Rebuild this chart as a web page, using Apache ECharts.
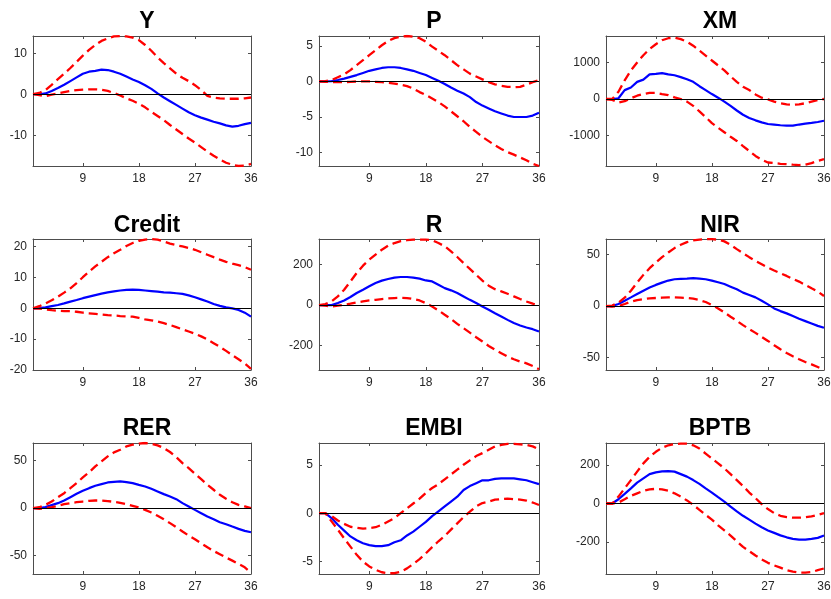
<!DOCTYPE html>
<html>

<head>
  <meta charset="UTF-8">
  <title>IRF</title>
  <script src="https://cdn.jsdelivr.net/npm/echarts@6/dist/echarts.min.js"></script>
  <style>
    body {
      margin: 0;
      background: #fff;
    }

    #chart {
      width: 831px;
      height: 599px;
    }
  </style>
</head>

<body>
  <div id="chart"></div>
  <script>
    // horizon and tick labels
    const periods = [1, 2, 3, 4, 5, 6, 7, 8, 9, 10, 11, 12, 13, 14, 15, 16, 17, 18, 19, 20, 21, 22, 23, 24, 25, 26, 27, 28, 29, 30, 31, 32, 33, 34, 35, 36];
    const xTicks = [9, 18, 27, 36];
    const panelNames = ['Y', 'P', 'XM', 'Credit', 'R', 'NIR', 'RER', 'EMBI', 'BPTB'];
    const yTicks = [
      [-10, 0, 10],
      [-10, -5, 0, 5],
      [-1000, 0, 1000],
      [-20, -10, 0, 10, 20],
      [-200, 0, 200],
      [-50, 0, 50],
      [-50, 0, 50],
      [-5, 0, 5],
      [-200, 0, 200]
    ];
    const yLimits = [
      [-17.5, 14.2], [-11.9, 6.4], [-1836, 1726],
      [-20, 22.5], [-321, 327], [-62, 65],
      [-69.4, 68.7], [-6.28, 7.25], [-367, 315]
    ];

    // Y
    const yMean = [0, 0, 0.2, 0.8, 1.5, 2.3, 3.2, 4.1, 5.0, 5.5, 5.7, 6.0, 5.9, 5.5, 5.0, 4.3, 3.6, 3.0, 2.2, 1.3, 0.2, -0.8, -1.7, -2.6, -3.5, -4.4, -5.1, -5.7, -6.2, -6.7, -7.1, -7.6, -7.9, -7.7, -7.3, -7.0];
    const yUp = [0, 0.3, 1.0, 2.3, 3.7, 5.0, 6.4, 7.9, 9.4, 10.8, 12.0, 13.0, 13.6, 14.1, 14.2, 14.1, 13.8, 13.2, 12.0, 10.6, 9.0, 7.6, 6.3, 5.0, 4.0, 3.2, 2.2, 1.0, -0.4, -0.8, -1.0, -1.1, -1.1, -1.1, -1.0, -0.8];
    const yLow = [0, -0.2, -0.5, -0.1, 0.2, 0.5, 0.8, 1.0, 1.1, 1.2, 1.2, 1.1, 0.8, 0.3, -0.3, -1.0, -1.6, -2.3, -3.2, -4.3, -5.3, -6.3, -7.5, -8.6, -9.7, -10.8, -11.8, -12.9, -14.0, -15.0, -15.9, -16.7, -17.2, -17.5, -17.4, -17.0];
    // P
    const pMean = [0, 0, 0.05, 0.2, 0.4, 0.65, 0.9, 1.2, 1.5, 1.7, 1.9, 2.0, 2.0, 1.9, 1.7, 1.5, 1.2, 0.9, 0.5, 0.1, -0.35, -0.85, -1.3, -1.7, -2.2, -2.9, -3.4, -3.8, -4.2, -4.5, -4.8, -5.0, -5.0, -5.0, -4.8, -4.4];
    const pUp = [0, 0.05, 0.2, 0.6, 1.0, 1.6, 2.3, 3.0, 3.7, 4.4, 5.1, 5.7, 6.1, 6.3, 6.4, 6.3, 6.1, 5.6, 4.9, 4.3, 3.7, 3.0, 2.3, 1.7, 1.1, 0.7, 0.3, -0.1, -0.4, -0.6, -0.75, -0.8, -0.75, -0.45, -0.1, 0.2];
    const pLow = [0, -0.05, -0.1, -0.1, -0.1, -0.05, 0, 0, 0, -0.05, -0.1, -0.2, -0.3, -0.45, -0.65, -1.0, -1.5, -1.9, -2.4, -2.9, -3.5, -4.2, -4.9, -5.6, -6.4, -7.1, -7.8, -8.4, -9.0, -9.5, -9.95, -10.3, -10.7, -11.1, -11.6, -11.9];
    // XM
    const xmMean = [0, 0, 20, 243, 315, 470, 530, 675, 690, 710, 675, 650, 600, 540, 470, 350, 243, 135, 36, -72, -190, -315, -432, -520, -585, -640, -685, -700, -720, -730, -730, -700, -675, -655, -630, -595];
    const xmUp = [0, 0, 200, 510, 785, 1000, 1200, 1370, 1500, 1610, 1665, 1680, 1640, 1570, 1460, 1325, 1190, 1055, 920, 785, 620, 470, 335, 245, 125, 36, -10, -72, -117, -145, -160, -145, -117, -72, -27, 0];
    const xmLow = [0, -27, -100, -60, 20, 90, 135, 170, 170, 135, 108, 45, 0, -72, -190, -340, -495, -660, -790, -910, -1035, -1150, -1290, -1425, -1560, -1665, -1740, -1755, -1775, -1785, -1800, -1810, -1800, -1755, -1695, -1650];
    // Credit
    const creditMean = [0, 0.1, 0.3, 0.7, 1.1, 1.6, 2.2, 2.7, 3.3, 3.8, 4.3, 4.8, 5.2, 5.5, 5.8, 6.0, 6.1, 6.0, 5.8, 5.6, 5.4, 5.2, 5.1, 4.9, 4.7, 4.2, 3.6, 2.9, 2.2, 1.4, 0.8, 0.3, 0, -0.5, -1.4, -2.7];
    const creditUp = [0, 0.7, 1.6, 2.6, 3.8, 5.1, 6.5, 8.2, 10.1, 11.9, 13.6, 15.1, 16.6, 17.9, 19.0, 20.2, 21.2, 21.9, 22.3, 22.5, 22.3, 21.7, 21.0, 20.5, 20.1, 19.6, 19.0, 18.2, 17.4, 16.6, 15.8, 15.1, 14.5, 14.0, 13.4, 12.5];
    const creditLow = [0, -0.1, -0.3, -0.6, -0.8, -0.9, -0.9, -1.1, -1.4, -1.6, -1.8, -2.0, -2.2, -2.3, -2.5, -2.6, -2.7, -3.1, -3.6, -3.9, -4.3, -4.8, -5.4, -6.1, -6.8, -7.5, -8.2, -9.1, -10.1, -11.3, -12.5, -13.8, -15.2, -16.5, -17.9, -19.6];
    // R
    const rMean = [0, 0, 0, 10, 23, 40, 60, 76, 93, 109, 121, 129, 136, 139, 139, 136, 131, 122, 117, 101, 84, 73, 60, 43, 26, 10, -7, -23, -40, -56, -73, -89, -101, -111, -119, -131];
    const rUp = [0, 5, 18, 43, 76, 117, 159, 195, 225, 250, 274, 294, 307, 316, 321, 324, 324, 324, 321, 307, 291, 266, 238, 208, 179, 150, 121, 96, 79, 68, 56, 43, 30, 18, 7, -3];
    const rLow = [0, -3, -7, -3, 2, 7, 13, 18, 23, 26, 30, 33, 35, 36, 35, 30, 23, 10, -7, -26, -48, -69, -93, -114, -136, -159, -180, -202, -221, -238, -255, -268, -279, -288, -301, -317];
    // NIR
    const nirMean = [0, 0, 2, 5.2, 8.4, 11.7, 14.9, 17.9, 20.5, 22.7, 24.7, 26.0, 26.3, 26.6, 27.0, 26.6, 26.0, 24.7, 23.1, 21.4, 18.8, 16.2, 13.0, 10.7, 8.4, 5.2, 1.6, -2.3, -4.9, -7.1, -9.7, -12.3, -14.6, -16.9, -19.2, -21.1];
    const nirUp = [0, 0.5, 3.2, 8.1, 14.9, 22.7, 30.2, 36.7, 42.2, 47.4, 51.9, 56.2, 59.4, 62.0, 63.6, 64.3, 64.9, 64.9, 64.3, 62.7, 59.4, 55.2, 51.3, 47.4, 43.8, 40.6, 37.3, 34.4, 31.8, 29.2, 26.3, 23.7, 20.5, 17.2, 14.0, 9.7];
    const nirLow = [0, -0.6, 0, 2.0, 4.2, 5.8, 6.8, 7.5, 7.8, 8.1, 8.4, 8.4, 8.1, 7.8, 7.1, 5.8, 3.9, 1.0, -2.3, -6.2, -10.4, -14.3, -18.5, -22.4, -26.0, -29.9, -33.8, -38.0, -41.9, -45.5, -48.7, -51.6, -54.2, -56.5, -59.1, -61.7];
    // RER
    const rerMean = [0, 0, 1.1, 3.2, 5.3, 8.1, 11.6, 15.1, 18.3, 21.1, 23.6, 25.4, 27.1, 27.8, 28.2, 27.5, 26.4, 24.6, 22.9, 20.4, 17.6, 14.8, 12.3, 9.5, 5.3, 1.8, -1.8, -5.3, -8.8, -11.6, -14.8, -16.9, -19.4, -21.8, -23.9, -25.4];
    const rerUp = [0, 1.0, 3.5, 7.0, 11.6, 15.8, 21.1, 26.4, 32.4, 37.7, 44.0, 49.3, 54.6, 58.8, 61.6, 65.1, 66.9, 68.0, 68.7, 68.0, 66.2, 63.4, 59.2, 53.9, 47.5, 42.3, 36.3, 30.6, 24.6, 19.4, 14.1, 9.9, 6.3, 3.5, 1.8, 0];
    const rerLow = [0, -0.7, 0, 1.1, 2.5, 4.2, 5.3, 6.3, 7.0, 7.7, 8.1, 8.1, 7.4, 6.7, 5.6, 4.2, 2.5, 0.7, -1.8, -4.6, -8.1, -11.6, -15.8, -20.1, -24.6, -28.9, -32.7, -37.0, -41.2, -45.1, -48.6, -52.1, -55.3, -58.8, -62.3, -68.0];
    // EMBI
    const embiMean = [0, 0, -0.5, -1.2, -1.8, -2.4, -2.8, -3.1, -3.3, -3.4, -3.4, -3.3, -3.0, -2.8, -2.3, -1.9, -1.4, -0.9, -0.3, 0.2, 0.7, 1.2, 1.7, 2.4, 2.8, 3.1, 3.4, 3.4, 3.55, 3.6, 3.6, 3.6, 3.5, 3.4, 3.2, 3.0];
    const embiUp = [0, 0, -0.3, -0.75, -1.1, -1.4, -1.5, -1.6, -1.55, -1.45, -1.2, -0.85, -0.5, 0, 0.5, 1.0, 1.5, 2.1, 2.6, 3.0, 3.5, 4.0, 4.5, 5.0, 5.45, 5.9, 6.2, 6.55, 6.9, 7.05, 7.15, 7.15, 7.1, 7.05, 6.9, 6.6];
    const embiLow = [0, 0, -0.85, -1.7, -2.6, -3.45, -4.3, -5.0, -5.5, -5.85, -6.1, -6.2, -6.2, -6.05, -5.7, -5.25, -4.75, -4.15, -3.5, -2.9, -2.35, -1.7, -1.05, -0.4, 0.15, 0.7, 1.05, 1.2, 1.4, 1.45, 1.5, 1.45, 1.4, 1.3, 1.1, 0.85];
    // BPTB
    const bptbMean = [0, 0, 22, 50, 79, 109, 131, 153, 162, 167, 169, 166, 153, 140, 122, 102, 79, 57, 33, 10, -16, -41, -64, -84, -105, -124, -140, -153, -166, -176, -184, -188, -188, -184, -179, -167];
    const bptbUp = [0, 0, 36, 79, 122, 166, 209, 243, 269, 290, 303, 309, 312, 312, 303, 286, 260, 234, 209, 183, 153, 122, 91, 57, 28, -3, -29, -50, -64, -71, -74, -74, -72, -67, -59, -50];
    const bptbLow = [0, 0, 5, 22, 40, 53, 66, 74, 76, 74, 67, 53, 36, 16, -7, -33, -59, -84, -114, -140, -167, -197, -226, -248, -271, -291, -309, -322, -334, -347, -355, -360, -360, -357, -347, -338];

    const means = [yMean, pMean, xmMean, creditMean, rMean, nirMean, rerMean, embiMean, bptbMean];
    const uppers = [yUp, pUp, xmUp, creditUp, rUp, nirUp, rerUp, embiUp, bptbUp];
    const lowers = [yLow, pLow, xmLow, creditLow, rLow, nirLow, rerLow, embiLow, bptbLow];

    // panel placement in pixels
    const colLeft = [33, 319, 606];
    const colWidth = [218, 220, 218];
    const rowTop = [36, 239, 443];
    const rowHeight = [130, 131, 131];
    const titleTop = [5, 209, 412];

    const frameColor = '#4d4d4d';
    const labelColor = '#262626';
    const font = 'Liberation Sans, Arial, sans-serif';

    const grids = [], xAxes = [], yAxes = [], titles = [], series = [];

    const pairs = arr => periods.map((t, i) => [t, arr[i]]);

    panelNames.forEach((name, k) => {
      const r = Math.floor(k / 3), c = k % 3;
      grids.push({
        left: colLeft[c], top: rowTop[r], width: colWidth[c], height: rowHeight[r],
        outerBoundsMode: 'none', containLabel: false,
        show: false
      });
      titles.push({
        text: name,
        left: colLeft[c] + colWidth[c] / 2,
        top: titleTop[r],
        textAlign: 'center',
        textStyle: { fontFamily: font, fontSize: 23, fontWeight: 'bold', color: '#000' }
      });
      const xBase = {
        type: 'value', gridIndex: k, min: 1, max: 36,
        splitLine: { show: false },
        axisLine: { show: true, onZero: false, lineStyle: { color: frameColor, width: 1 } },
        axisTick: { show: true, inside: true, length: 3, customValues: xTicks, lineStyle: { color: frameColor } }
      };
      xAxes.push(Object.assign({}, xBase, {
        position: 'bottom',
        axisLabel: {
          show: true, customValues: xTicks, margin: 7,
          formatter: v => String(v),
          fontFamily: font, fontSize: 12, color: labelColor
        }
      }));
      xAxes.push(Object.assign({}, xBase, { position: 'top', axisLabel: { show: false } }));
      const yBase = {
        type: 'value', gridIndex: k, min: yLimits[k][0], max: yLimits[k][1],
        splitLine: { show: false },
        axisLine: { show: true, onZero: false, lineStyle: { color: frameColor, width: 1 } },
        axisTick: { show: true, inside: true, length: 3, customValues: yTicks[k], lineStyle: { color: frameColor } }
      };
      yAxes.push(Object.assign({}, yBase, {
        position: 'left',
        axisLabel: {
          show: true, customValues: yTicks[k], margin: 6,
          formatter: v => String(v),
          fontFamily: font, fontSize: 12, color: labelColor
        }
      }));
      yAxes.push(Object.assign({}, yBase, { position: 'right', axisLabel: { show: false } }));

      const xi = 2 * k, yi = 2 * k;
      series.push({
        type: 'line', xAxisIndex: xi, yAxisIndex: yi, data: pairs(means[k]),
        symbol: 'none', silent: true, z: 3,
        lineStyle: { color: '#0000ff', width: 2.2 },
        markLine: {
          silent: true, symbol: ['none', 'none'], label: { show: false },
          lineStyle: { color: '#000', width: 1, type: 'solid' },
          data: [{ yAxis: 0 }]
        }
      });
      [uppers[k], lowers[k]].forEach(band => {
        series.push({
          type: 'line', xAxisIndex: xi, yAxisIndex: yi, data: pairs(band),
          symbol: 'none', silent: true, z: 4,
          lineStyle: { color: '#ff0000', width: 2.3, type: [9, 5] }
        });
      });
    });

    const myChart = echarts.init(document.getElementById('chart'), null, { renderer: 'canvas' });
    myChart.setOption({
      animation: false,
      backgroundColor: '#fff',
      title: titles,
      grid: grids,
      xAxis: xAxes,
      yAxis: yAxes,
      series: series
    });
  </script>
</body>

</html>
